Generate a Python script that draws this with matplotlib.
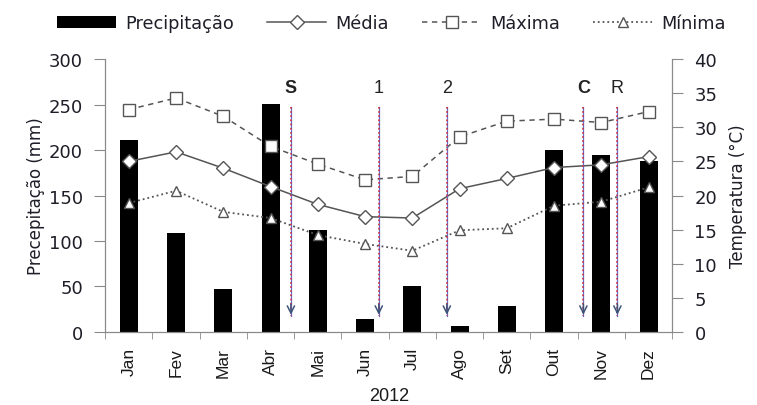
import matplotlib
matplotlib.use("Agg")
import matplotlib.pyplot as plt
import numpy as np

plt.rcParams["font.family"] = ["DejaVu Sans"]
ARIAL = ["Liberation Sans", "DejaVu Sans"]

months = ["Jan", "Fev", "Mar", "Abr", "Mai", "Jun", "Jul", "Ago", "Set", "Out", "Nov", "Dez"]
precip = [211, 109, 47, 251, 112, 14, 51, 7, 29, 200, 195, 188]
t_media = [25.0, 26.4, 24.0, 21.3, 18.7, 16.9, 16.7, 21.0, 22.5, 24.1, 24.5, 25.7]
t_max = [32.6, 34.3, 31.6, 27.2, 24.6, 22.3, 22.8, 28.6, 30.9, 31.2, 30.7, 32.3]
t_min = [18.9, 20.7, 17.6, 16.7, 14.2, 12.9, 11.9, 14.9, 15.2, 18.5, 19.1, 21.2]

# operations: label, x position (month index), bold
ops_labels = ["S", "1", "2", "C", "R"]
ops_x = [3.43, 5.29, 6.73, 9.62, 10.34]
ops_bold = [True, False, False, True, False]

x = np.arange(len(months))
grey = "#8a8a8a"
tickc = "#1e1e28"

fig = plt.figure(figsize=(7.57, 4.06), dpi=100)
ax = fig.add_axes([0.139, 0.18, 0.749, 0.672])
ax2 = ax.twinx()

ax.bar(x, precip, width=0.38, color="black", label="Precipitação", zorder=2)
ax.set_xlim(-0.5, 11.5)
ax.set_ylim(0, 300)
ax.set_yticks(range(0, 301, 50))
ax.set_xticks(x)
ax.set_xticklabels(months, rotation=90, fontsize=12.5, family=ARIAL, color="#1a1a1a")
ax.set_xticks(np.arange(-0.5, 12, 1), minor=True)
ax.tick_params(axis="x", which="major", length=0, pad=11)
ax.tick_params(axis="x", which="minor", length=5, color=grey)
ax.tick_params(axis="y", length=8, color=grey, labelsize=13, labelcolor=tickc, pad=8)
ax.set_ylabel("Precepitação (mm)", fontsize=12, color=tickc, labelpad=3)
ax.set_xlabel("2012", fontsize=13, family=ARIAL, labelpad=6, color="#1a1a1a")

lc = "#555555"
ax2.plot(x, t_media, "-", color=lc, lw=1.1, marker="D", ms=7, mfc="white", mec=lc, label="Média", zorder=3)
ax2.plot(x, t_max, "--", color=lc, lw=1.1, dashes=(3.5, 3), marker="s", ms=8, mfc="white", mec=lc, label="Máxima", zorder=3)
ax2.plot(x, t_min, ":", color=lc, lw=1.3, marker="^", ms=7.5, mfc="white", mec=lc, label="Mínima", zorder=3)
ax2.set_ylim(0, 40)
ax2.set_yticks(range(0, 41, 5))
ax2.tick_params(axis="y", length=8, color=grey, labelsize=13, labelcolor=tickc, pad=8)
ax2.set_ylabel("Temperatura (°C)", fontsize=12, color=tickc, labelpad=8)

for a in (ax, ax2):
    a.spines["top"].set_visible(False)
    for s in ("left", "right", "bottom"):
        a.spines[s].set_color(grey)

# operation arrows
for lab, xp, b in zip(ops_labels, ops_x, ops_bold):
    ax2.plot([xp, xp], [33.0, 2.3], color="#6070c8", lw=0.9, zorder=4)
    ax2.plot([xp, xp], [33.0, 2.3], color="#d03040", lw=1.2, ls=(0, (1, 1.5)), zorder=4)
    ax2.annotate("", xy=(xp, 2.1), xytext=(xp, 4.5),
                 arrowprops=dict(arrowstyle="->", color="#405478", lw=1.1, mutation_scale=13), zorder=5)
    ax2.text(xp, 35.9, lab, ha="center", va="center", fontsize=13, family=ARIAL,
             fontweight="bold" if b else "normal", color="#222222")

h1, l1 = ax.get_legend_handles_labels()
h2, l2 = ax2.get_legend_handles_labels()
fig.legend(h1 + h2, l1 + l2, loc="center", bbox_to_anchor=(0.517, 0.94), ncol=4,
           frameon=False, fontsize=12.8, columnspacing=1.9, handlelength=3.3,
           handleheight=0.6, handletextpad=0.5, labelcolor=tickc)

fig.savefig("out.png", dpi=100)
